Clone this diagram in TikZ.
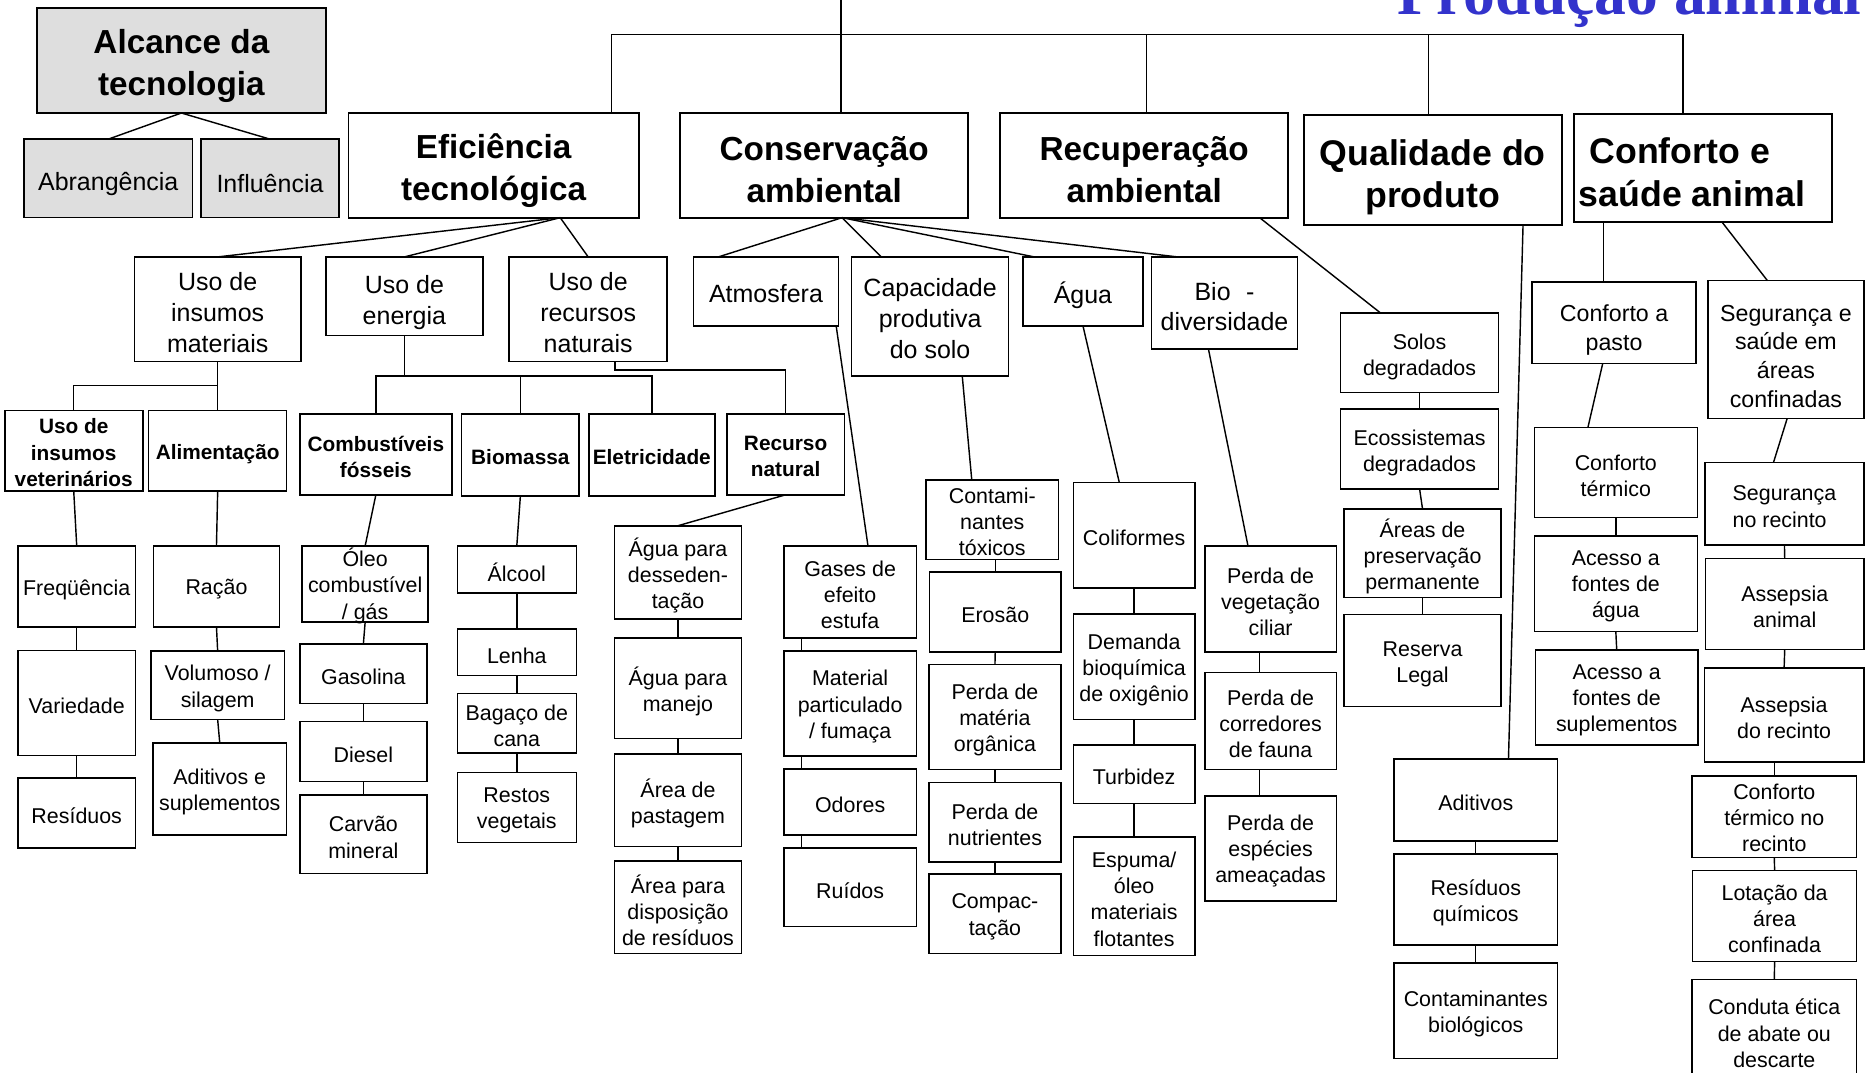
\documentclass[tikz,border=0pt]{standalone}
\usepackage{fontspec}
\usepackage{tikz}
\usetikzlibrary{calc}
\setmainfont{Liberation Sans}
\newfontfamily\headserif{Liberation Serif}
\definecolor{boxgray}{RGB}{222,222,222}
\definecolor{titleblue}{RGB}{51,51,204}

% \mkbox[text drop]{name}{x1}{y1}{x2}{y2}{style}{text}: box given by its corners,
% its text set a little below the centre
\newcommand\mkbox[8][2.5]{%
  \node[#7, minimum width={(#5-#3)*1pt}, minimum height={(#6-#4)*1pt}]
    (#2) at ({(#3+#5)/2},{(#4+#6)/2}) {};
  \node[#7, draw=none, fill=none] (#2-t) at ([yshift=-#1pt]#2.center) {#8};}

\begin{document}
\begin{tikzpicture}[x=1pt,y=-1pt,
  bx/.style={draw, line width=1.3pt, inner sep=0pt, outer sep=0pt, align=center, rectangle},
  topbox/.style={bx, line width=1.5pt},
  heavybox/.style={bx, line width=1.8pt},
  fbig/.style={font=\bfseries\fontsize{28}{35.5}\selectfont},
  fbigger/.style={font=\bfseries\fontsize{30}{36}\selectfont},
  fmed/.style={font=\fontsize{21}{26}\selectfont},
  fmid/.style={font=\fontsize{19.5}{24}\selectfont},
  fsm/.style={font=\fontsize{18}{22}\selectfont},
  fsb/.style={font=\bfseries\fontsize{17.5}{22}\selectfont},
  link/.style={line width=1.2pt}
]
\fill[white] (0,0) rectangle (1568,902);
\path[use as bounding box, clip] (0,0) rectangle (1568,902);

% title
\node[anchor=base west, inner sep=0pt, text=titleblue,
      font=\headserif\bfseries\fontsize{53.5}{60}\selectfont] (ttl) at (1175,12) {Produção animal};

% scope of the technology
\mkbox[4.5]{alc}{31}{7}{274}{95}{topbox,fill=boxgray,fbig}{Alcance da\\tecnologia}
\mkbox[5]{abr}{20}{117}{162}{183}{bx,fill=boxgray,fmed}{Abrangência}
\mkbox[4]{inf}{169}{117}{285}{183}{bx,fill=boxgray,fmed}{Influência}

% main aspects
\mkbox[4.5]{ef}{293}{95}{537}{183}{topbox,fbig}{Eficiência\\tecnológica}
\mkbox[3.5]{cs}{572}{95}{814}{183}{topbox,fbig}{Conservação\\ambiental}
\mkbox[3.5]{rc}{841}{95}{1083}{183}{topbox,fbig}{Recuperação\\ambiental}
\mkbox[6]{qp}{1096}{97}{1313}{189}{heavybox,fbigger}{Qualidade do\\produto}
\mkbox[3]{cf}{1323}{96}{1540}{187}{heavybox,fbigger,align=left}{\hspace*{9pt}Conforto e\\saúde animal\hspace*{18pt}}

% second level
\mkbox[3]{ui}{113}{216}{253}{304}{bx,fmed}{Uso de\\insumos\\materiais}
\mkbox[5]{ue}{274}{216}{406}{282}{bx,fmed}{Uso de\\energia}
\mkbox[3]{ur}{428}{216}{561}{304}{bx,fmed}{Uso de\\recursos\\naturais}
\mkbox[2]{atm}{583}{216}{705}{274}{bx,fmed}{Atmosfera}
\mkbox[2]{cap}{716}{216}{848}{316}{bx,fmed}{Capacidade\\produtiva\\do solo}
\mkbox[3]{agu}{860}{216}{961}{274}{bx,fmed}{Água}
\mkbox[3]{bdv}{968}{216}{1091}{293.5}{bx,fmed}{Bio\hspace{13pt}-\\diversidade}
\mkbox[3.5]{sol}{1127}{263}{1260}{330}{bx,fsm}{Solos\\degradados}
\mkbox[3]{eco}{1127}{344}{1260}{411}{bx,fsm}{Ecossistemas\\degradados}
\mkbox{app}{1130}{428}{1262}{502.5}{bx,fsm}{Áreas de\\preservação\\permanente}
\mkbox[3.5]{rsl}{1130}{516.5}{1262}{594}{bx,fsm}{Reserva\\Legal}
\mkbox[6]{cpa}{1288}{237}{1426}{305.5}{bx,fmid}{Conforto a\\pasto}
\mkbox[5.5]{ssc}{1436}{236}{1567}{352}{bx,fmid}{Segurança e\\saúde em\\áreas\\confinadas}

% third level
\mkbox[1.5]{vet}{4}{345}{120}{413}{bx,fsb}{Uso de\\insumos\\veterinários}
\mkbox[3]{ali}{125}{345}{241}{413}{bx,fsb}{Alimentação}
\mkbox[2]{cmb}{252}{348}{380}{416}{bx,fsb}{Combustíveis\\fósseis}
\mkbox[2]{bio}{388}{348}{487}{417}{bx,fsb}{Biomassa}
\mkbox[2]{ele}{495}{348}{601}{417}{bx,fsb}{Eletricidade}
\mkbox[2]{rn}{611}{348}{710}{416}{bx,fsb}{Recurso\\natural}

% leaves
\mkbox[3]{frq}{15}{459}{114}{527}{bx,fsm}{Freqüência}
\mkbox{var}{15}{547}{114}{635}{bx,fsm}{Variedade}
\mkbox{res}{15}{654}{114}{713}{bx,fsm}{Resíduos}
\mkbox{rac}{129}{459}{235}{527}{bx,fsm}{Ração}
\mkbox{vol}{127}{547.5}{239}{605}{bx,fsm}{Volumoso /\\silagem}
\mkbox{adt}{128.5}{624.5}{241}{702}{bx,fsm}{Aditivos e\\suplementos}
\mkbox[1.5]{ole}{254}{459}{360}{523}{bx,fsm}{Óleo\\combustível\\/ gás}
\mkbox{gsl}{252}{541.5}{359}{591.5}{bx,fsm}{Gasolina}
\mkbox{dsl}{252}{606.5}{359}{657}{bx,fsm}{Diesel}
\mkbox{crv}{252}{668.5}{359}{734.5}{bx,fsm}{Carvão\\mineral}
\mkbox{alco}{384.5}{459}{484.5}{498.5}{bx,fsm}{Álcool}
\mkbox{len}{384.5}{529}{484.5}{568}{bx,fsm}{Lenha}
\mkbox{bag}{384.5}{583}{484.5}{633}{bx,fsm}{Bagaço de\\cana}
\mkbox{rst}{384.5}{649.5}{484.5}{708.5}{bx,fsm}{Restos\\vegetais}
\mkbox{agd}{516.5}{442}{623.5}{520.5}{bx,fsm}{Água para\\desseden-\\tação}
\mkbox{agm}{516.5}{536.5}{623.5}{621}{bx,fsm}{Água para\\manejo}
\mkbox{apg}{516.5}{634}{623.5}{711.5}{bx,fsm}{Área de\\pastagem}
\mkbox{ard}{516.5}{724}{623.5}{801.5}{bx,fsm}{Área para\\disposição\\de resíduos}
\mkbox{gef}{659}{459}{770.5}{536.5}{bx,fsm}{Gases de\\efeito\\estufa}
\mkbox{mpf}{659}{547.5}{770.5}{635.5}{bx,fsm}{Material\\particulado\\/ fumaça}
\mkbox{odo}{659}{646.5}{770.5}{702}{bx,fsm}{Odores}
\mkbox{rui}{659}{713}{770.5}{779}{bx,fsm}{Ruídos}
\mkbox[1.5]{ctx}{778.5}{403.5}{890}{470.5}{bx,fsm}{Contami-\\nantes\\tóxicos}
\mkbox{ero}{781.5}{481}{892}{548}{bx,fsm}{Erosão}
\mkbox{pmo}{781}{558.5}{892}{647}{bx,fsm}{Perda de\\matéria\\orgânica}
\mkbox{pnu}{781}{658}{892}{724.5}{bx,fsm}{Perda de\\nutrientes}
\mkbox{cpt}{781}{735}{892}{801.5}{bx,fsm}{Compac-\\tação}
\mkbox{col}{902.5}{405.5}{1004.5}{494.5}{bx,fsm}{Coliformes}
\mkbox{dbo}{902.5}{516}{1004.5}{605}{bx,fsm}{Demanda\\bioquímica\\de oxigênio}
\mkbox{tur}{902.5}{626.5}{1004.5}{675.5}{bx,fsm}{Turbidez}
\mkbox{esp}{902.5}{703.5}{1004.5}{803.5}{bx,fsm}{Espuma/\\óleo\\materiais\\flotantes}
\mkbox{pvc}{1013}{459}{1123.5}{548}{bx,fsm}{Perda de\\vegetação\\ciliar}
\mkbox{pcf}{1013}{565.5}{1123.5}{647}{bx,fsm}{Perda de\\corredores\\de fauna}
\mkbox{pea}{1013}{669}{1123.5}{757.5}{bx,fsm}{Perda de\\espécies\\ameaçadas}
\mkbox{adi}{1172}{638}{1309.5}{707}{bx,fsm}{Aditivos}
\mkbox{rqu}{1172}{718}{1309.5}{794.5}{bx,fsm}{Resíduos\\químicos}
\mkbox{cbi}{1172}{809.5}{1309.5}{890}{bx,fsm}{Contaminantes\\biológicos}
\mkbox{ctm}{1290}{359.5}{1427}{435}{bx,fsm}{Conforto\\térmico}
\mkbox{afa}{1290}{450.5}{1427}{531}{bx,fsm}{Acesso a\\fontes de\\água}
\mkbox{afs}{1291}{546.5}{1427.5}{626.5}{bx,fsm}{Acesso a\\fontes de\\suplementos}
\mkbox{snr}{1433.5}{389}{1567}{458}{bx,fsm,align=left}{Segurança\\no recinto}
\mkbox{asa}{1434}{469.5}{1567}{546}{bx,fsm}{Assepsia\\animal}
\mkbox{asd}{1433}{561.5}{1567}{640.5}{bx,fsm}{Assepsia\\do recinto}
\mkbox[1]{ctr}{1422.5}{652.5}{1561}{721}{bx,fsm}{Conforto\\térmico no\\recinto}
\mkbox{lot}{1423}{732}{1561}{808.5}{bx,fsm}{Lotação da\\área\\confinada}
\mkbox{cet}{1422.5}{823.5}{1561}{909}{bx,fsm}{Conduta ética\\de abate ou\\descarte}

% trunk and bus of the main aspects
\coordinate (root) at (707,0);
\coordinate (bus) at (707,29);
\draw[link] (root) -- (bus);
\draw[link] ([xshift=99pt]ef.north) |- (bus) -| ([xshift=14pt]cs.north);
\draw[link] (bus) -| ([xshift=2pt]rc.north);
\draw[link] (bus) -| ([xshift=-3.5pt]qp.north);
\draw[link] (bus) -| ([xshift=-16.5pt]cf.north);

\draw[link] (alc.south) -- (abr.north);
\draw[link] (alc.south) -- (inf.north);

% efficiency branch
\coordinate (efo) at ([xshift=56pt]ef.south);
\draw[link] (efo) -- (ui.north);
\draw[link] (efo) -- (ue.north);
\draw[link] (efo) -- (ur.north);
\draw[link] (ui.south) -- ++(0,20) -| (vet.north);
\draw[link] (ui.south) -- (ali.north);
\coordinate (ebus) at ($(ue.south)+(0,34)$);
\draw[link] (ue.south) -- (ebus) -| (cmb.north);
\draw[link] (ebus) -| (ele.north);
\draw[link] (bio.north) -- (bio.north |- ebus);
\draw[link] ([xshift=22.5pt]ur.south) -- ++(0,7) -| (rn.north);

% conservation branch
\coordinate (cso) at ([xshift=15pt]cs.south);
\draw[link] (cso) -- ([xshift=-40pt]atm.north);
\draw[link] (cso) -- ([xshift=-41pt]cap.north);
\draw[link] (cso) -- ([xshift=-41pt]agu.north);
\draw[link] (cso) -- ([xshift=-39.5pt]bdv.north);
\draw[link] ([xshift=59pt]atm.south) -- ([xshift=15pt]gef.north);
\draw[link] ([xshift=27pt]cap.south) -- ([xshift=-17.25pt]ctx.north);
\draw[link] (agu.south) -- ([xshift=-12.5pt]col.north);
\draw[link] ([xshift=-13.5pt]bdv.south) -- ([xshift=-19pt]pvc.north);
\foreach \a/\b in {gef/mpf, mpf/odo, odo/rui}
  \draw[link] ([xshift=-40.75pt]\a.south) -- ([xshift=-40.75pt]\b.north);
\foreach \a/\b in {pvc/pcf, pcf/pea}
  \draw[link] ([xshift=-9.25pt]\a.south) -- ([xshift=-9.25pt]\b.north);
\draw[link] (ctx.south -| ero.north) -- (ero.north);

% recovery, quality and comfort branches
\draw[link] ([xshift=97pt]rc.south) -- ([xshift=-33pt]sol.north);
\draw[link] ([xshift=76pt]qp.south) -- ([xshift=27.5pt]adi.north);
\draw[link] ([xshift=-83.5pt]cf.south) -- ([xshift=-9pt]cpa.north);
\draw[link] ([xshift=16.5pt]cf.south) -- ([xshift=-15.5pt]ssc.north);
\draw[link] ([xshift=-9.5pt]cpa.south) -- ([xshift=-23.5pt]ctm.north);
\draw[link] ([xshift=1pt]ssc.south) -- ([xshift=-9.25pt]snr.north);
\draw[link] (ctr.north |- asd.south) -- (ctr.north);

% straight vertical chains
\foreach \a/\b in {vet/frq, frq/var, var/res, ali/rac, rac/vol, vol/adt,
                   cmb/ole, ole/gsl, gsl/dsl, dsl/crv,
                   bio/alco, alco/len, len/bag, bag/rst,
                   rn/agd, agd/agm, agm/apg, apg/ard,
                   ero/pmo, pmo/pnu, pnu/cpt,
                   col/dbo, dbo/tur, tur/esp,
                   sol/eco, eco/app, app/rsl,
                   adi/rqu, rqu/cbi,
                   ctm/afa, afa/afs,
                   snr/asa, asa/asd, ctr/lot, lot/cet}
  \draw[link] (\a.south) -- (\b.north);
\end{tikzpicture}
\end{document}
